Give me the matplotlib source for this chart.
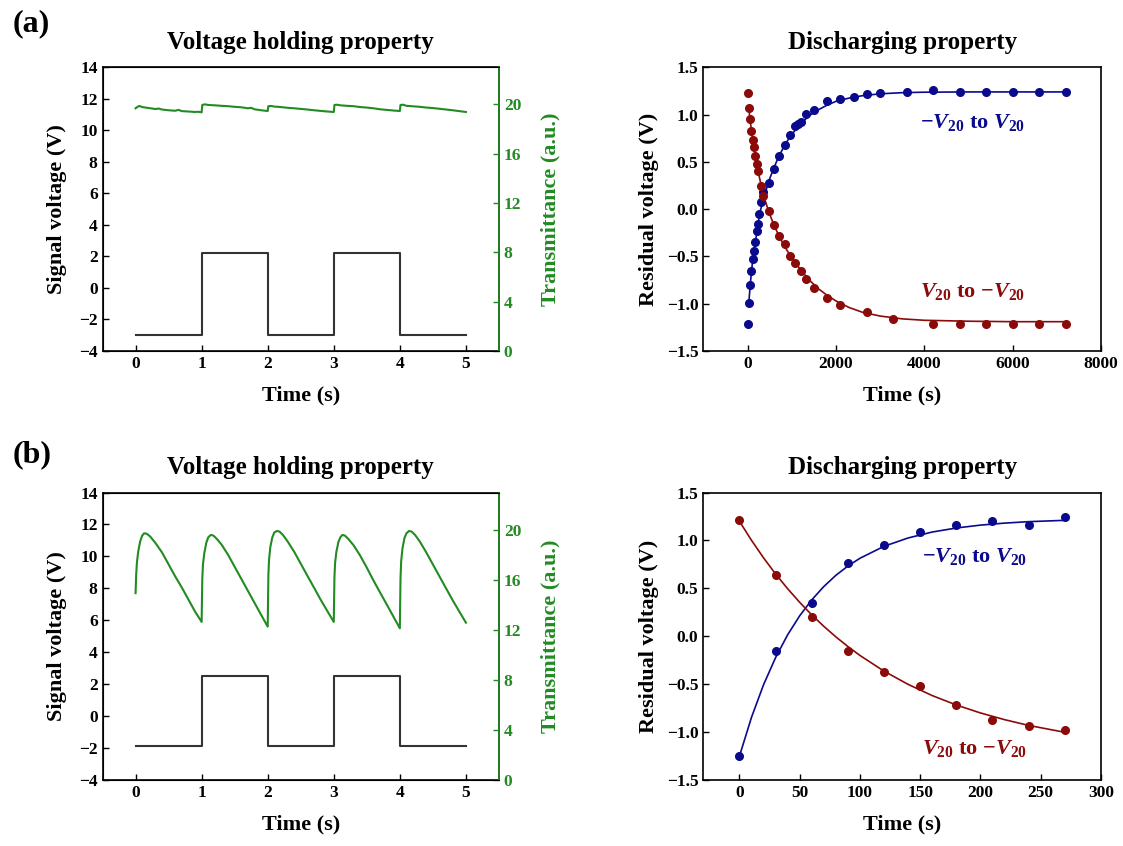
import matplotlib
matplotlib.use('Agg')
import matplotlib.pyplot as plt

plt.rcParams['font.family'] = ['Liberation Serif', 'DejaVu Serif']
plt.rcParams['font.weight'] = 'bold'
plt.rcParams['axes.labelweight'] = 'bold'
plt.rcParams['axes.titleweight'] = 'bold'
plt.rcParams['mathtext.fontset'] = 'custom'
plt.rcParams['mathtext.rm'] = 'Liberation Serif:bold'
plt.rcParams['mathtext.it'] = 'Liberation Serif:italic:bold'
plt.rcParams['mathtext.bf'] = 'Liberation Serif:bold'

GREEN = '#228b22'
BLUE = '#0a0a8c'
RED = '#8b0a0a'

# ---- voltage holding: square signal ----
sq_t = [0, 1, 1, 2, 2, 3, 3, 4, 4, 5]
sq_a = [-3.0, -3.0, 2.2, 2.2, -3.0, -3.0, 2.2, 2.2, -3.0, -3.0]
sq_b = [-1.9, -1.9, 2.5, 2.5, -1.9, -1.9, 2.5, 2.5, -1.9, -1.9]

# ---- voltage holding: transmittance traces ----
trans_a_t = [0, 0.03, 0.06, 0.1, 0.2, 0.3, 0.35, 0.4, 0.5, 0.6, 0.65, 0.7, 0.8, 0.9, 0.95, 1.0,
             1.01, 1.05, 1.1, 1.2, 1.3, 1.4, 1.5, 1.6, 1.7, 1.75, 1.8, 1.9, 2.0,
             2.01, 2.05, 2.1, 2.2, 2.3, 2.4, 2.5, 2.6, 2.7, 2.8, 2.9, 3.0,
             3.01, 3.05, 3.1, 3.2, 3.3, 3.4, 3.5, 3.6, 3.7, 3.8, 3.9, 4.0,
             4.01, 4.05, 4.1, 4.2, 4.3, 4.4, 4.5, 4.6, 4.7, 4.8, 4.9, 5.0]
trans_a = [19.68, 19.80, 19.87, 19.78, 19.70, 19.62, 19.66, 19.58, 19.52, 19.48, 19.55, 19.45, 19.42, 19.38, 19.40, 19.35,
           19.95, 20.00, 19.95, 19.92, 19.88, 19.85, 19.80, 19.76, 19.68, 19.72, 19.60, 19.52, 19.46,
           19.85, 19.87, 19.82, 19.78, 19.72, 19.68, 19.63, 19.58, 19.52, 19.47, 19.42, 19.38,
           19.95, 19.97, 19.92, 19.88, 19.85, 19.78, 19.74, 19.68, 19.60, 19.55, 19.50, 19.46,
           19.95, 19.97, 19.88, 19.84, 19.80, 19.74, 19.70, 19.64, 19.58, 19.52, 19.45, 19.38]

trans_b_t = [0, 0.01, 0.02, 0.04, 0.07, 0.1, 0.13, 0.17, 0.22, 0.3, 0.4, 0.5, 0.6, 0.7, 0.8, 0.9, 1.0,
             1.01, 1.02, 1.04, 1.07, 1.1, 1.14, 1.18, 1.23, 1.3, 1.4, 1.5, 1.6, 1.7, 1.8, 1.9, 2.0,
             2.01, 2.02, 2.04, 2.07, 2.1, 2.14, 2.18, 2.23, 2.3, 2.4, 2.5, 2.6, 2.7, 2.8, 2.9, 3.0,
             3.01, 3.02, 3.04, 3.07, 3.1, 3.13, 3.17, 3.22, 3.3, 3.4, 3.5, 3.6, 3.7, 3.8, 3.9, 4.0,
             4.01, 4.02, 4.04, 4.07, 4.1, 4.14, 4.18, 4.23, 4.3, 4.4, 4.5, 4.6, 4.7, 4.8, 4.9, 5.0]
trans_b = [14.95, 16.48, 17.38, 18.27, 19.10, 19.55, 19.74, 19.70, 19.49, 18.97, 18.21, 17.25, 16.29, 15.40, 14.44, 13.48, 12.65,
           16.10, 17.25, 18.14, 18.97, 19.42, 19.61, 19.55, 19.29, 18.85, 18.02, 17.06, 16.10, 15.14, 14.18, 13.22, 12.27,
           16.35, 17.63, 18.65, 19.42, 19.80, 19.93, 19.87, 19.61, 19.10, 18.27, 17.31, 16.35, 15.40, 14.44, 13.54, 12.65,
           16.23, 17.38, 18.27, 19.04, 19.42, 19.61, 19.55, 19.29, 18.78, 17.95, 16.99, 15.97, 15.01, 14.06, 13.10, 12.14,
           16.10, 17.50, 18.53, 19.36, 19.74, 19.93, 19.87, 19.61, 19.10, 18.21, 17.25, 16.29, 15.33, 14.38, 13.48, 12.59]

# ---- discharging (a) ----
dis_a_pos_t = [0, 30, 60, 90, 120, 150, 180, 210, 240, 270, 300, 360, 480, 600, 720, 840, 960, 1080,
               1140, 1200, 1320, 1500, 1800, 2100, 2400, 2700, 3000, 3600, 4200, 4800, 5400, 6000, 6600, 7200]
dis_a_pos = [-1.21, -0.99, -0.80, -0.65, -0.53, -0.44, -0.35, -0.23, -0.16, -0.05, 0.08, 0.18, 0.28, 0.42,
             0.56, 0.68, 0.78, 0.88, 0.90, 0.92, 1.01, 1.05, 1.14, 1.17, 1.19, 1.22, 1.23, 1.24, 1.26,
             1.24, 1.24, 1.24, 1.24, 1.24]
dis_a_neg_t = [0, 30, 60, 90, 120, 150, 180, 210, 240, 300, 360, 480, 600, 720, 840, 960, 1080, 1200,
               1320, 1500, 1800, 2100, 2700, 3300, 4200, 4800, 5400, 6000, 6600, 7200]
dis_a_neg = [1.225, 1.065, 0.95, 0.83, 0.735, 0.655, 0.56, 0.475, 0.40, 0.25, 0.14, -0.02, -0.17, -0.28,
             -0.37, -0.50, -0.57, -0.65, -0.74, -0.83, -0.94, -1.01, -1.09, -1.165, -1.21, -1.21, -1.21,
             -1.21, -1.21, -1.21]
fit_a_t = [30, 60, 90, 120, 150, 200, 250, 300, 400, 500, 600, 700, 800, 900, 1000, 1200, 1400, 1600,
           1800, 2000, 2300, 2600, 3000, 3500, 4000, 5000, 6000, 7200]
fit_a_pos = [-0.99, -0.81, -0.66, -0.53, -0.43, -0.28, -0.12, 0.0, 0.17, 0.32, 0.44, 0.55, 0.64, 0.72,
             0.79, 0.90, 0.99, 1.05, 1.10, 1.14, 1.175, 1.20, 1.22, 1.232, 1.237, 1.24, 1.24, 1.24]
fit_a_neg = [1.065, 0.94, 0.83, 0.73, 0.64, 0.50, 0.38, 0.27, 0.09, -0.05, -0.17, -0.27, -0.36, -0.44,
             -0.51, -0.64, -0.75, -0.84, -0.91, -0.97, -1.04, -1.09, -1.13, -1.16, -1.175, -1.185, -1.19, -1.19]

# ---- discharging (b) ----
dis_b_t = [0, 30, 60, 90, 120, 150, 180, 210, 240, 270]
dis_b_pos = [-1.25, -0.15, 0.345, 0.76, 0.95, 1.09, 1.16, 1.20, 1.16, 1.24]
dis_b_neg = [1.21, 0.64, 0.20, -0.15, -0.37, -0.52, -0.72, -0.87, -0.94, -0.98]
fit_b_t = [0, 10, 20, 30, 40, 50, 60, 70, 80, 90, 100, 120, 140, 160, 180, 200, 220, 240, 270]
fit_b_pos = [-1.25, -0.845, -0.505, -0.222, 0.016, 0.214, 0.38, 0.519, 0.636, 0.733, 0.814, 0.939,
             1.026, 1.088, 1.13, 1.16, 1.181, 1.196, 1.21]
fit_b_neg = [1.20, 1.001, 0.818, 0.65, 0.496, 0.354, 0.223, 0.104, -0.006, -0.107, -0.20, -0.364,
             -0.502, -0.619, -0.717, -0.80, -0.87, -0.93, -1.002]

TICK_FS = 12.5
LABEL_FS = 16
TITLE_FS = 18


def style_axes(ax):
    ax.tick_params(direction='in', length=4, width=1, labelsize=TICK_FS, top=False, right=False)
    for s in ax.spines.values():
        s.set_linewidth(1.2)


def holding_panel(rect, sq, tr_t, tr):
    ax = fig.add_axes(rect)
    ax.plot(sq_t, sq, color='#333333', lw=1.5)
    ax.set_xlim(-0.5, 5.5)
    ax.set_ylim(-4, 14)
    ax.set_yticks(range(-4, 15, 2))
    ax.set_xticks(range(0, 6))
    ax.set_xlabel('Time (s)', fontsize=LABEL_FS, labelpad=10)
    ax.set_ylabel('Signal voltage (V)', fontsize=LABEL_FS, labelpad=9)
    ax.set_title('Voltage holding property', fontsize=TITLE_FS, pad=13)
    style_axes(ax)
    ax2 = ax.twinx()
    ax2.plot(tr_t, tr, color=GREEN, lw=1.5)
    ax2.set_ylim(0, 23)
    ax2.set_yticks(range(0, 21, 4))
    ax2.tick_params(direction='in', length=4, width=1, labelsize=TICK_FS, colors=GREEN)
    ax2.spines['right'].set_color(GREEN)
    ax2.spines['right'].set_linewidth(1.2)
    ax2.set_ylabel('Transmittance (a.u.)', fontsize=LABEL_FS, color=GREEN, labelpad=14)
    return ax


def discharge_panel(rect, pos_t, pos, neg_t, neg, ft, fpos, fneg, xlim, xticks, lab_x, lab_pos_y, lab_neg_y):
    ax = fig.add_axes(rect)
    ax.plot(ft, fpos, color=BLUE, lw=1.2)
    ax.plot(ft, fneg, color=RED, lw=1.2)
    ax.plot(pos_t, pos, 'o', color=BLUE, ms=5.5)
    ax.plot(neg_t, neg, 'o', color=RED, ms=5.5)
    ax.set_xlim(*xlim)
    ax.set_xticks(xticks)
    ax.set_ylim(-1.5, 1.5)
    ax.set_yticks([-1.5, -1.0, -0.5, 0.0, 0.5, 1.0, 1.5])
    ax.set_yticklabels(['\u22121.5', '\u22121.0', '\u22120.5', '0.0', '0.5', '1.0', '1.5'])
    ax.set_xlabel('Time (s)', fontsize=LABEL_FS, labelpad=10)
    ax.set_ylabel('Residual voltage (V)', fontsize=LABEL_FS, labelpad=6)
    ax.set_title('Discharging property', fontsize=TITLE_FS, pad=13)
    style_axes(ax)
    ax.text(lab_x, lab_pos_y, r'$-V_{20}$ to $V_{20}$', color=BLUE, fontsize=16,
            ha='center', va='center')
    ax.text(lab_x, lab_neg_y, r'$V_{20}$ to $-V_{20}$', color=RED, fontsize=16,
            ha='center', va='center')
    return ax


fig = plt.figure(figsize=(11.23, 8.46), dpi=100)

L_LEFT, L_W = 0.0913, 0.353
R_LEFT, R_W = 0.6263, 0.354
TOP_B, TOP_H = 0.5851, 0.3353
BOT_B, BOT_H = 0.078, 0.3398

holding_panel([L_LEFT, TOP_B, L_W, TOP_H], sq_a, trans_a_t, trans_a)
holding_panel([L_LEFT, BOT_B, L_W, BOT_H], sq_b, trans_b_t, trans_b)

discharge_panel([R_LEFT, TOP_B, R_W, TOP_H], dis_a_pos_t, dis_a_pos, dis_a_neg_t, dis_a_neg,
                fit_a_t, fit_a_pos, fit_a_neg, (-1000, 8000), [0, 2000, 4000, 6000, 8000],
                5100, 0.92, -0.87)
discharge_panel([R_LEFT, BOT_B, R_W, BOT_H], dis_b_t, dis_b_pos, dis_b_t, dis_b_neg,
                fit_b_t, fit_b_pos, fit_b_neg, (-30, 300), [0, 50, 100, 150, 200, 250, 300],
                195, 0.83, -1.17)

fig.text(0.011, 0.972, '(a)', fontsize=23, va='center', ha='left')
fig.text(0.011, 0.462, '(b)', fontsize=23, va='center', ha='left')

fig.savefig('out.png', dpi=100)
